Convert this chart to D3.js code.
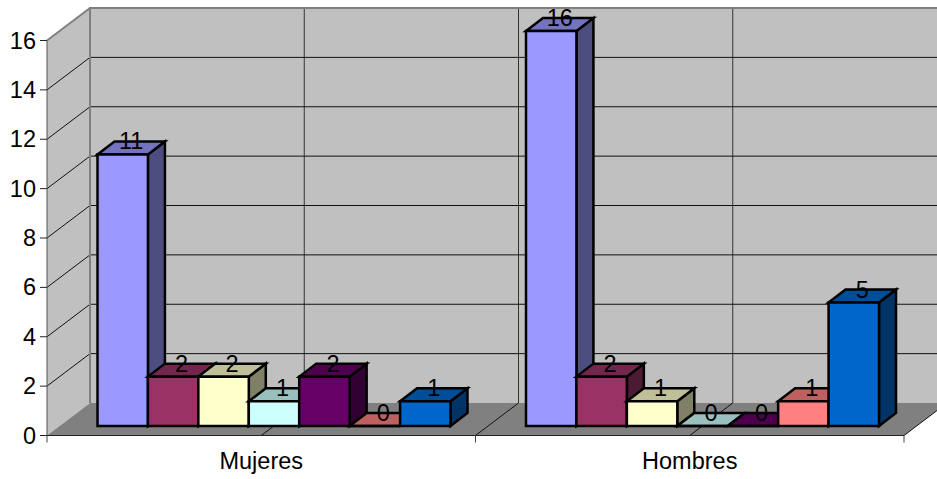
<!DOCTYPE html>
<html><head><meta charset="utf-8">
<style>html,body{margin:0;padding:0;background:#fff;overflow:hidden}svg{display:block}text{font-family:"Liberation Sans",Arial,sans-serif;fill:#000}</style>
<script src="https://cdn.jsdelivr.net/npm/d3@7/dist/d3.min.js"></script>
</head><body><svg id="c" width="937" height="479"></svg>
<script>
const categories = ["Mujeres", "Hombres"];
const seriesKeys = ["a", "b", "c", "d", "e", "f", "g"];
const mujeres = [11, 2, 2, 1, 2, 0, 1];
const hombres = [16, 2, 1, 0, 0, 1, 5];
const seriesColors = ["#9999FF", "#993366", "#FFFFCC", "#CCFFFF", "#660066", "#FF8080", "#0066CC"];
const yTicks = [0, 2, 4, 6, 8, 10, 12, 14, 16];

const svg = d3.select("#c");
const fontSize = 23.5;
const wallDx = 43, wallDy = -32.5;      // chart depth
const barDx = 17, barDy = -13;          // bar depth
const barOffY = -9.5;                   // bar front plane offset from floor front

const x = d3.scaleBand().domain(categories).range([47, 904]);
const xMid = x.bandwidth() / 2;
const y = d3.scaleLinear().domain([0, 16]).range([435.5, 40.5]);
const yBar = d => y(d) + barOffY;
const inner = d3.scaleBand().domain(seriesKeys).range([50.5, 50.5 + 353]);

const pts = a => a.map(p => p.join(",")).join(" ");
const [x0, x1] = x.range();
const yb = y(0), yt = y(16);

// walls
svg.append("polygon").attr("points", pts([[x0 + wallDx, yt + wallDy], [x1 + wallDx, yt + wallDy], [x1 + wallDx, yb + wallDy], [x0 + wallDx, yb + wallDy]])).attr("fill", "#c0c0c0");
svg.append("polygon").attr("points", pts([[x0, yt], [x0 + wallDx, yt + wallDy], [x0 + wallDx, yb + wallDy], [x0, yb]])).attr("fill", "#c0c0c0");
svg.append("polygon").attr("points", pts([[x0, yb], [x0 + wallDx, yb + wallDy], [x1 + wallDx, yb + wallDy], [x1, yb]])).attr("fill", "#808080");

// gridlines
const gridV = [];
categories.forEach(c => { gridV.push(x(c) + xMid, x(c) + x.bandwidth()); });
gridV.forEach(v => {
  svg.append("line").attr("x1", v + wallDx).attr("x2", v + wallDx).attr("y1", yt + wallDy).attr("y2", yb + wallDy).attr("stroke", "#333").attr("stroke-width", 1);
  svg.append("line").attr("x1", v).attr("x2", v + wallDx).attr("y1", yb).attr("y2", yb + wallDy).attr("stroke", "#111").attr("stroke-width", 1);
});
yTicks.filter(t => t > 0 && t < 16).forEach(t => {
  svg.append("line").attr("x1", x0 + wallDx).attr("x2", x1 + wallDx).attr("y1", y(t) + wallDy).attr("y2", y(t) + wallDy).attr("stroke", "#111").attr("stroke-width", 1);
});
yTicks.filter(t => t > 0).forEach(t => {
  svg.append("line").attr("x1", x0).attr("x2", x0 + wallDx).attr("y1", y(t)).attr("y2", y(t) + wallDy).attr("stroke", t === 16 ? "#808080" : "#111").attr("stroke-width", t === 16 ? 2 : 1);
});
// wall borders
svg.append("path").attr("d", `M${x0 + wallDx},${yb + wallDy}V${yt + wallDy}H${x1 + wallDx}`).attr("fill", "none").attr("stroke", "#808080").attr("stroke-width", 2);

// axes
svg.append("line").attr("x1", x0).attr("x2", x0).attr("y1", yt).attr("y2", yb).attr("stroke", "#555").attr("stroke-width", 1);
svg.append("line").attr("x1", x0).attr("x2", x1).attr("y1", yb).attr("y2", yb).attr("stroke", "#222").attr("stroke-width", 1);
yTicks.forEach(t => {
  svg.append("line").attr("x1", 40).attr("x2", x0).attr("y1", y(t)).attr("y2", y(t)).attr("stroke", "#222");
  svg.append("text").attr("x", 36).attr("y", y(t) + 8).attr("text-anchor", "end").attr("font-size", fontSize).text(t);
});
[x(categories[0]), x(categories[1]), x1].forEach(v => {
  svg.append("line").attr("x1", v).attr("x2", v).attr("y1", yb).attr("y2", yb + 7).attr("stroke", "#444");
});
categories.forEach(c => {
  svg.append("text").attr("x", x(c) + xMid).attr("y", 469).attr("text-anchor", "middle").attr("font-size", fontSize).text(c);
});

// bars
const values = { Mujeres: mujeres, Hombres: hombres };
const labels = [];
categories.forEach(c => {
  seriesKeys.forEach((k, i) => {
    const v = values[c][i];
    const l = x(c) + inner(k), r = l + inner.bandwidth();
    const t = yBar(v), b = yBar(0);
    const col = d3.color(seriesColors[i]);
    const g = svg.append("g").attr("stroke", "#000").attr("stroke-width", 2.5).attr("stroke-linejoin", "miter");
    g.append("polygon").attr("points", pts([[r, b], [r + barDx, b + barDy], [r + barDx, t + barDy], [r, t]])).attr("fill", d3.rgb(col.r * .5, col.g * .5, col.b * .5));
    g.append("polygon").attr("points", pts([[l, t], [l + barDx, t + barDy], [r + barDx, t + barDy], [r, t]])).attr("fill", d3.rgb(col.r * .75, col.g * .75, col.b * .75));
    g.append("polygon").attr("points", pts([[l, b], [l, t], [r, t], [r, b]])).attr("fill", col);
    labels.push({ v, x: (l + r) / 2 + barDx / 2, y: t + barDy });
  });
});
labels.forEach(d => {
  svg.append("text").attr("x", d.x).attr("y", d.y + 8).attr("text-anchor", "middle").attr("font-size", fontSize).text(d.v);
});
</script></body></html>
